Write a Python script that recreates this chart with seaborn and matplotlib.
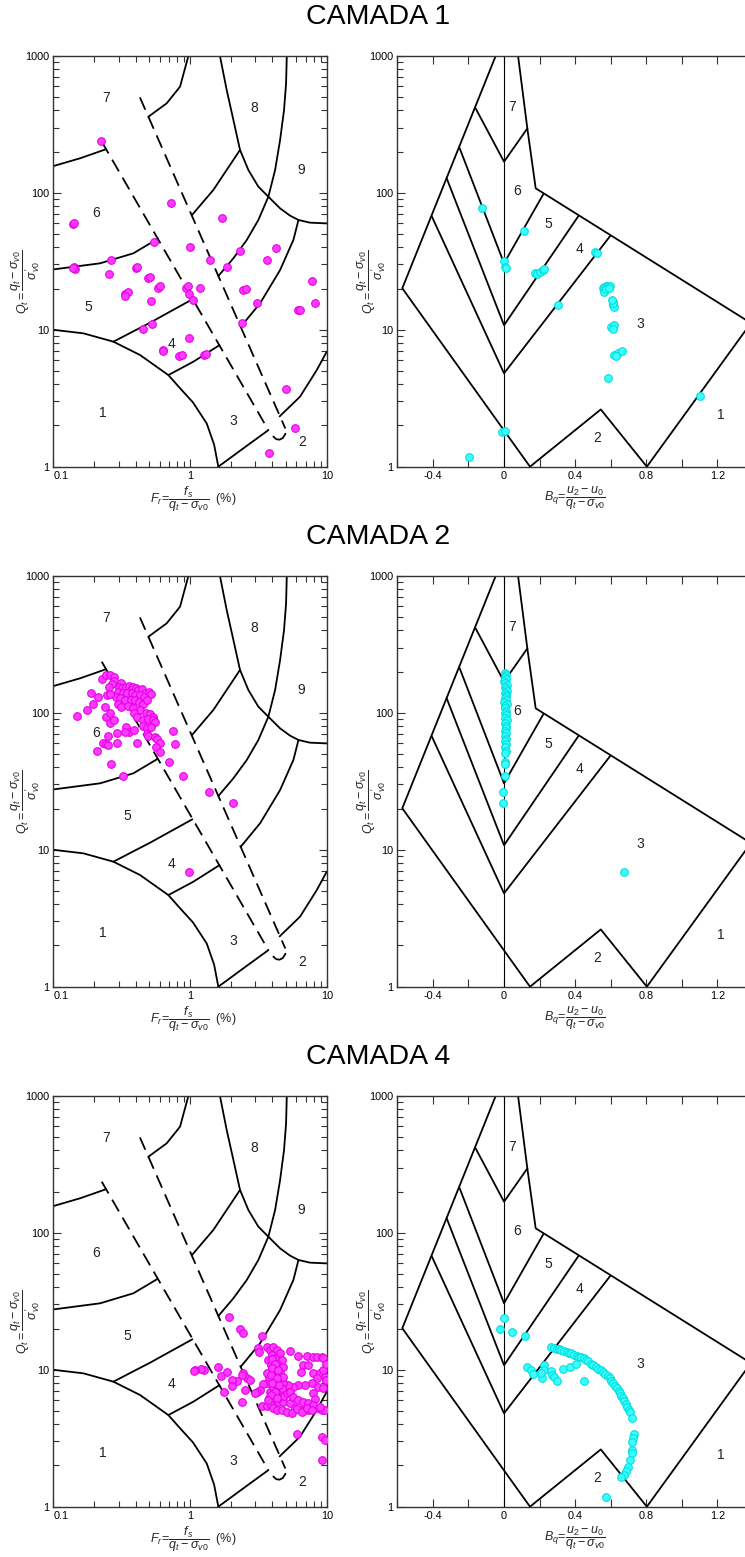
import matplotlib
matplotlib.use("Agg")
import matplotlib.pyplot as plt
import seaborn as sns
from matplotlib.ticker import FuncFormatter, MultipleLocator, NullFormatter, LogLocator

# --- DADOS DAS CAMADAS (Fr em %, Bq, Qt) ---
LAYERS = ["CAMADA 1", "CAMADA 2", "CAMADA 4"]

C1_FR = [0.223, 0.726, 1.705, 0.140, 0.1425, 0.545, 1.006, 2.32, 4.26, 0.263,
         1.393, 3.64, 0.1416, 0.1449, 0.1385, 0.400, 0.4095, 1.855, 0.254, 0.493,
         0.5096, 0.583, 0.603, 0.930, 0.972, 1.19, 2.443, 2.555, 0.3325, 0.350,
         0.3347, 0.989, 7.76, 0.521, 1.046, 3.11, 8.17, 6.13, 6.42, 0.524,
         0.453, 2.415, 0.978, 0.638, 0.631, 0.836, 0.874, 1.259, 1.31, 5.04,
         5.90, 3.76]
C1_QT_FR = [239, 83.9, 65.9, 59.3, 60.6, 43.5, 40.0, 37.6, 39.3, 32.2,
            32.3, 32.2, 28.9, 27.8, 28.1, 28.1, 28.6, 28.7, 25.4, 24.0,
            24.3, 20.3, 20.8, 20.3, 20.8, 20.2, 19.4, 19.7, 18.35, 19.0,
            17.65, 18.35, 22.6, 16.1, 16.5, 15.6, 15.7, 13.9, 14.0, 11.0,
            10.1, 11.3, 8.75, 7.07, 7.05, 6.47, 6.54, 6.58, 6.65, 3.67,
            1.905, 1.266]
C1_BQ = [-0.122, 0.114, -0.002, 0.006, 0.013, 0.175, 0.188, 0.203, 0.221, 0.225,
         0.510, 0.525, 0.302, 0.554, 0.563, 0.572, 0.582, 0.597, 0.563, 0.610,
         0.615, 0.619, 0.610, 0.604, 0.619, 0.610, 0.619, 0.638, 0.662, 0.629,
         0.587, 1.101, -0.013, 0.004, -0.197, 0.575, 0.590, 0.605]
C1_QT_BQ = [78.0, 52.9, 32.0, 28.9, 28.1, 25.8, 25.4, 26.6, 27.4, 27.7,
            36.8, 36.6, 15.3, 20.1, 20.6, 20.9, 21.0, 21.0, 19.0, 16.0,
            15.1, 14.75, 15.6, 10.5, 10.8, 10.2, 6.54, 6.73, 7.04, 6.43,
            4.42, 3.28, 1.80, 1.82, 1.17, 19.8, 20.3, 16.4]

C2_FR = [0.228, 0.243, 0.260, 0.278, 0.278, 0.267, 0.257, 0.314, 0.304, 0.316,
         0.340, 0.360, 0.374, 0.385, 0.403, 0.419, 0.443, 0.469, 0.503, 0.516,
         0.299, 0.325, 0.348, 0.374, 0.396, 0.431, 0.461, 0.287, 0.308, 0.334,
         0.368, 0.396, 0.426, 0.456, 0.482, 0.246, 0.260, 0.188, 0.213, 0.194,
         0.299, 0.311, 0.354, 0.385, 0.431, 0.476, 0.510, 0.539, 0.389, 0.412,
         0.456, 0.496, 0.533, 0.558, 0.450, 0.482, 0.516, 0.239, 0.177, 0.150,
         0.243, 0.260, 0.260, 0.278, 0.340, 0.360, 0.389, 0.334, 0.294, 0.253,
         0.407, 0.291, 0.229, 0.243, 0.249, 0.208, 0.263, 0.482, 0.496, 0.555,
         0.570, 0.603, 0.561, 0.603, 0.747, 0.777, 0.706, 0.884, 0.325, 1.385,
         2.075, 0.978]
C2_QT_FR = [176, 189, 189, 184, 172, 162, 155, 166, 155, 151,
            155, 157, 151, 155, 151, 147, 149, 140, 143, 137,
            143, 140, 139, 139, 135, 135, 131, 131, 128, 124,
            124, 124, 121, 117, 124, 135, 137, 140, 130, 116,
            117, 111, 112, 108, 105, 100, 98.1, 93.8, 99.2, 93.8,
            88.7, 89.7, 88.7, 86.3, 80.2, 77.1, 79.3, 111, 105, 94.9,
            92.8, 99.2, 84.8, 88.7, 79.3, 72.9, 75.0, 72.9, 71.7, 67.8,
            60.6, 60.6, 59.9, 59.3, 58.3, 52.7, 42.3, 70.1, 67.8, 67.0,
            64.1, 59.9, 56.6, 51.5, 73.7, 58.9, 44.0, 34.6, 34.6, 26.3,
            21.8, 6.84]
C2_BQ = [0.006, 0.010, 0.004, 0.012, 0.002, 0.008, 0.014, 0.005, 0.010, 0.016,
         0.003, 0.009, 0.013, 0.006, 0.011, 0.002, 0.015, 0.008, 0.004, 0.012,
         0.007, 0.010, 0.003, 0.014, 0.006, 0.009, 0.012, 0.004, 0.010, 0.007,
         0.013, 0.005, 0.009, 0.006, 0.011, 0.008, 0.006, 0.006, 0.005, -0.003,
         -0.003, 0.672]
C2_QT_BQ = [194, 189, 184, 178, 172, 166, 160, 155, 150, 145,
            140, 136, 132, 128, 124, 120, 116, 112, 108, 104,
            100, 96, 92, 88, 84, 80, 77, 74, 71, 68,
            65, 62, 59, 56, 53, 50.8, 43.6, 42.0, 34.6, 26.3,
            21.8, 6.84]

C4_FR = [1.94, 2.30, 2.43, 3.38, 3.16, 3.22, 3.64, 3.85, 4.07, 4.31,
         3.96, 4.19, 4.56, 4.69, 3.74, 3.89, 4.31, 4.77, 5.39, 6.20,
         7.14, 7.90, 8.45, 9.19, 9.36, 6.68, 7.34, 6.45, 7.99, 8.94,
         9.72, 9.95, 8.45, 7.77, 8.69, 9.36, 7.90, 8.22, 6.94, 6.20,
         5.70, 5.24, 4.82, 4.31, 3.96, 3.64, 3.44, 3.25, 3.07, 2.99,
         2.63, 2.75, 2.43, 2.39, 2.53, 2.40, 2.22, 2.02, 2.04, 1.86,
         1.69, 1.61, 1.78, 1.27, 1.20, 1.09, 1.06, 3.81, 4.07, 4.43,
         4.82, 5.39, 5.87, 6.38, 6.75, 7.34, 7.99, 8.69, 9.19, 9.72,
         3.85, 4.19, 4.51, 4.87, 5.10, 5.39, 5.70, 6.20, 6.75, 7.34,
         7.99, 8.94, 3.38, 3.64, 3.89, 4.07, 4.31, 4.69, 5.10, 5.55,
         6.03, 6.56, 7.14, 7.77, 6.03, 9.19, 9.72, 9.19, 9.90, 9.45,
         9.95, 4.31, 4.56, 4.82, 4.19, 3.96, 3.81, 3.64, 4.07, 4.43,
         4.69, 4.00, 4.20, 4.00, 4.40, 3.90, 4.30, 4.00, 4.50, 4.20,
         3.90, 4.30, 3.70]
C4_QT_FR = [24.2, 19.7, 18.7, 17.6, 14.5, 13.6, 14.75, 13.9, 14.75, 13.9,
            12.8, 12.1, 13.2, 11.8, 11.8, 10.8, 11.1, 10.5, 13.8, 12.6,
            12.6, 12.5, 12.5, 12.3, 12.1, 10.8, 10.8, 9.69, 9.42, 9.53,
            8.90, 8.42, 8.66, 7.96, 7.53, 7.32, 6.73, 6.08, 7.74, 7.74,
            7.53, 7.74, 7.96, 8.19, 8.42, 7.96, 7.87, 7.11, 6.92, 6.73,
            8.66, 8.42, 9.42, 9.16, 7.11, 5.85, 8.28, 8.42, 7.61, 9.69,
            9.01, 10.4, 6.92, 9.96, 10.1, 9.96, 9.85, 6.18, 5.85, 5.85,
            5.85, 5.69, 5.23, 5.08, 5.03, 5.08, 5.14, 5.23, 5.08, 5.08,
            6.92, 6.54, 6.36, 6.43, 6.73, 6.92, 6.36, 6.01, 5.85, 5.69,
            5.53, 5.38, 5.44, 5.44, 5.53, 5.23, 5.08, 5.08, 4.94, 4.81,
            5.14, 4.94, 5.23, 5.08, 3.40, 3.25, 3.07, 2.19, 8.42, 9.96,
            11.1, 9.96, 9.42, 8.90, 9.42, 9.96, 8.90, 9.42, 7.53, 7.11,
            7.32, 12.0, 11.0, 10.3, 10.0, 9.2, 8.7, 8.0, 7.8, 6.9,
            6.5, 6.2, 6.0]
C4_BQ = [0.000, -0.022, 0.047, 0.118, 0.266, 0.281, 0.296, 0.310, 0.323, 0.338,
         0.353, 0.366, 0.379, 0.394, 0.409, 0.422, 0.432, 0.447, 0.460, 0.473,
         0.488, 0.503, 0.516, 0.529, 0.544, 0.557, 0.569, 0.582, 0.593, 0.604,
         0.615, 0.625, 0.634, 0.644, 0.653, 0.660, 0.670, 0.677, 0.685, 0.694,
         0.702, 0.709, 0.719, 0.728, 0.724, 0.722, 0.717, 0.717, 0.709, 0.698,
         0.685, 0.672, 0.657, 0.572, 0.128, 0.154, 0.165, 0.212, 0.225, 0.225,
         0.266, 0.272, 0.281, 0.296, 0.334, 0.372, 0.403, 0.450, 0.206]
C4_QT_BQ = [24.0, 19.7, 18.8, 17.6, 14.75, 14.5, 14.3, 14.1, 13.9, 13.8,
            13.6, 13.3, 13.2, 12.8, 12.6, 12.5, 12.3, 12.1, 11.8, 11.5,
            11.1, 10.8, 10.5, 10.2, 9.96, 9.69, 9.31, 9.01, 8.66, 8.33,
            7.96, 7.61, 7.32, 7.00, 6.73, 6.43, 6.18, 5.91, 5.62, 5.32,
            5.08, 4.94, 4.44, 3.40, 3.16, 2.98, 2.59, 2.45, 2.19, 1.96,
            1.83, 1.70, 1.64, 1.18, 10.4, 9.96, 9.31, 8.66, 10.8, 9.96,
            9.85, 9.16, 8.90, 8.28, 10.1, 10.4, 11.1, 8.33, 9.42]

# --- FRONTEIRAS DO ABACO Qt x Fr (Robertson 1990) ---
FR_ARC_1 = ([0.1, 0.166, 0.275, 0.431, 0.694, 0.845, 1.05, 1.324, 1.50, 1.61],
            [10, 9.42, 8.19, 6.54, 4.67, 3.74, 2.95, 2.07, 1.45, 1.0])
FR_L1 = ([0.1, 0.157, 0.243], [157, 179, 208.5])
FR_L2 = ([0.1, 0.22, 0.385, 0.58], [27.6, 30.6, 36.2, 46.2])
FR_L3 = ([0.275, 0.51, 1.04], [8.19, 11.27, 16.7])
FR_L4 = ([0.694, 1.058, 1.64], [4.67, 5.85, 7.72])
FR_L5 = ([1.61, 2.45, 3.74], [1.0, 1.36, 1.85])
FR_R1 = ([0.4955, 0.6746, 0.845, 0.972], [360, 451, 597, 1000])
FR_R2 = ([1.028, 1.48, 2.32], [68.5, 105, 206])
FR_R3 = ([1.61, 2.075, 2.60, 3.16, 3.74, 4.19, 4.556, 4.87, 5.04, 5.10],
         [24.7, 33.3, 45.3, 63.4, 93.8, 147, 243, 403, 631, 1000])
FR_R4 = ([2.344, 3.25, 4.556, 5.70, 6.21], [10.5, 15.6, 27.3, 45.3, 63.4])
FR_R5 = ([4.52, 6.38, 8.45, 10.0], [2.33, 3.25, 5.08, 6.92])
FR_ZONA9 = ([1.655, 1.854, 2.075, 2.32, 2.67, 3.16, 3.74, 4.556, 5.39, 6.21, 7.55, 10.0],
            [1000, 564, 341, 206, 147, 111, 93.8, 77.1, 68.2, 63.4, 60.6, 59.9])
FR_TRACO_ESQ = ([0.226, 3.74], [236.6, 1.85])
FR_TRACO_DIR = ([0.4295, 4.98], [499, 1.90])
FR_CURVA_NC = ([4.07, 4.26, 4.51, 4.77, 4.99], [1.66, 1.59, 1.575, 1.62, 1.74])

FR_ZONAS = ["1", "2", "3", "4", "5", "6", "7", "8", "9"]
FR_ZONAS_X = [0.232, 6.56, 2.07, 0.735, 0.35, 0.207, 0.243, 2.94, 6.49]
FR_ZONAS_Y = [2.45, 1.51, 2.16, 7.83, 17.7, 70.9, 491, 419, 147]
FR_ZONA5_CAMADA1 = (0.18, 14.7)

# --- FRONTEIRAS DO ABACO Qt x Bq ---
BQ_CONTORNO = ([-0.047, -0.572, 0.146], [1000, 20.1, 1.0])
BQ_ZONA2 = ([0.146, 0.544, 0.803], [1.0, 2.62, 1.0])
BQ_ZONA1 = ([0.803, 1.388], [1.0, 11.2])
BQ_TOPO = ([0.079, 0.131, 0.178, 1.388], [1000, 296, 108, 11.2])
BQ_Z76 = ([-0.1595, 0.0, 0.1313], [414, 169, 296])
BQ_Z65 = ([-0.2495, 0.0, 0.2214], [212, 30.6, 98.1])
BQ_Z54 = ([-0.3227, 0.0, 0.4184], [128, 10.8, 67.8])
BQ_Z43 = ([-0.4071, 0.0, 0.5966], [67.8, 4.81, 48.4])
BQ_EIXO0 = ([0.0, 0.0], [1.0, 1000])

BQ_ZONAS = ["1", "2", "3", "4", "5", "6", "7"]
BQ_ZONAS_X = [1.22, 0.525, 0.764, 0.422, 0.248, 0.071, 0.047]
BQ_ZONAS_Y = [2.38, 1.61, 11.1, 38.9, 58.9, 104, 426]

# --- ESTILO ---
sns.set_style("ticks")
plt.rcParams["font.family"] = ["Liberation Sans", "DejaVu Sans"]
plt.rcParams["mathtext.fontset"] = "custom"
plt.rcParams["mathtext.rm"] = "Liberation Sans"
plt.rcParams["mathtext.it"] = "Liberation Sans:italic"
plt.rcParams["mathtext.bf"] = "Liberation Sans:bold"

LW = 1.3
MAGENTA, MAGENTA_BORDA = "#ff3cff", "#e600e6"
CIANO, CIANO_BORDA = "#3cffff", "#00dede"
YLABEL = r"$Q_t = \dfrac{q_t - \sigma_{v0}}{\sigma^{\prime}_{v0}}$"


def linha(ax, xy, **kw):
    opts = dict(color="black", lw=LW, solid_capstyle="round", zorder=2)
    opts.update(kw)
    ax.plot(xy[0], xy[1], **opts)


def eixos_log_y(ax):
    ax.set_yscale("log")
    ax.set_ylim(1, 1000)
    ax.set_yticks([1, 10, 100, 1000], ["1", "10", "100", "1000"])
    ax.yaxis.set_minor_locator(LogLocator(base=10, subs=range(2, 10), numticks=10))
    ax.yaxis.set_minor_formatter(NullFormatter())
    for s in ax.spines.values():
        s.set_linewidth(1.0)
        s.set_color("#333333")
    ax.tick_params(which="both", direction="in", top=True, right=True,
                   labelsize=7.8, width=0.8, colors="#333333", labelcolor="black")
    ax.tick_params(axis="y", which="both", pad=3)
    ax.tick_params(axis="x", which="both", pad=3)
    ax.tick_params(which="major", length=6)
    ax.tick_params(which="minor", length=4)


def abaco_fr(ax, zona5):
    ax.set_xscale("log")
    ax.set_xlim(0.1, 10)
    eixos_log_y(ax)
    ax.set_xticks([0.1, 1, 10], ["0.1", "1", "10"])
    ax.xaxis.set_minor_locator(LogLocator(base=10, subs=range(2, 10), numticks=10))
    ax.xaxis.set_minor_formatter(NullFormatter())
    ax.get_xticklabels()[0].set_horizontalalignment("left")
    for xy in [FR_ARC_1, FR_L1, FR_L2, FR_L3, FR_L4, FR_L5, FR_R1, FR_R2,
               FR_R3, FR_R4, FR_R5, FR_ZONA9, FR_CURVA_NC]:
        linha(ax, xy)
    for xy in [FR_TRACO_ESQ, FR_TRACO_DIR]:
        linha(ax, xy, ls=(0, (7.5, 4)), solid_capstyle="butt")
    for z, x, y in zip(FR_ZONAS, FR_ZONAS_X, FR_ZONAS_Y):
        if z == "5" and zona5 is not None:
            x, y = zona5
        ax.text(x, y, z, ha="center", va="center", fontsize=10, color="#222222")
    ax.set_xlabel(r"$F_r\!=\!\dfrac{f_s}{q_t - \sigma_{v0}}$  $\mathit{(\%)}$", fontsize=9)
    ax.xaxis.set_label_coords(0.51, -0.045)
    ax.set_ylabel(YLABEL, fontsize=9)
    ax.yaxis.set_label_coords(-0.04, 0.45)


def abaco_bq(ax):
    ax.set_xlim(-0.6, 1.4)
    eixos_log_y(ax)
    ax.xaxis.set_major_locator(MultipleLocator(0.2))

    def fmt(v, p):
        k = v / 0.4
        if abs(k - round(k)) < 1e-6:
            return "0" if abs(v) < 1e-9 else f"{v:.1f}"
        return ""
    ax.xaxis.set_major_formatter(FuncFormatter(fmt))
    for xy in [BQ_CONTORNO, BQ_ZONA2, BQ_ZONA1, BQ_TOPO, BQ_Z76, BQ_Z65, BQ_Z54, BQ_Z43]:
        linha(ax, xy)
    linha(ax, BQ_EIXO0, lw=0.8)
    for z, x, y in zip(BQ_ZONAS, BQ_ZONAS_X, BQ_ZONAS_Y):
        ax.text(x, y, z, ha="center", va="center", fontsize=10, color="#222222")
    ax.set_xlabel(r"$B_q\!=\!\dfrac{u_2 - u_0}{q_t - \sigma_{v0}}$", fontsize=9)
    ax.xaxis.set_label_coords(0.5, -0.045)
    ax.set_ylabel(YLABEL, fontsize=9)
    ax.yaxis.set_label_coords(-0.027, 0.45)


fig = plt.figure(figsize=(7.45, 15.57), dpi=100)
BOTTOMS = [0.70026, 0.36628, 0.03231]
H = 0.26378

dados = [
    (C1_FR, C1_QT_FR, C1_BQ, C1_QT_BQ, FR_ZONA5_CAMADA1),
    (C2_FR, C2_QT_FR, C2_BQ, C2_QT_BQ, None),
    (C4_FR, C4_QT_FR, C4_BQ, C4_QT_BQ, None),
]

for i, (nome, (fr, qfr, bq, qbq, z5)) in enumerate(zip(LAYERS, dados)):
    axl = fig.add_axes([0.0716, BOTTOMS[i], 0.367, H])
    axr = fig.add_axes([0.5333, BOTTOMS[i], 0.4775, H])
    abaco_fr(axl, z5)
    abaco_bq(axr)
    sns.scatterplot(x=fr, y=qfr, ax=axl, s=30, color=MAGENTA, edgecolor=MAGENTA_BORDA,
                    linewidth=0.8, zorder=5, legend=False)
    sns.scatterplot(x=bq, y=qbq, ax=axr, s=30, color=CIANO, edgecolor=CIANO_BORDA,
                    linewidth=0.8, zorder=5, legend=False)
    axl.set_xlim(0.1, 10)
    axl.set_ylim(1, 1000)
    axr.set_xlim(-0.6, 1.4)
    axr.set_ylim(1, 1000)
    fig.text(0.508, BOTTOMS[i] + H + 38.5 / 1557, nome, ha="center", va="center",
             fontsize=20.5, color="black")

fig.savefig("out.png", dpi=100)
